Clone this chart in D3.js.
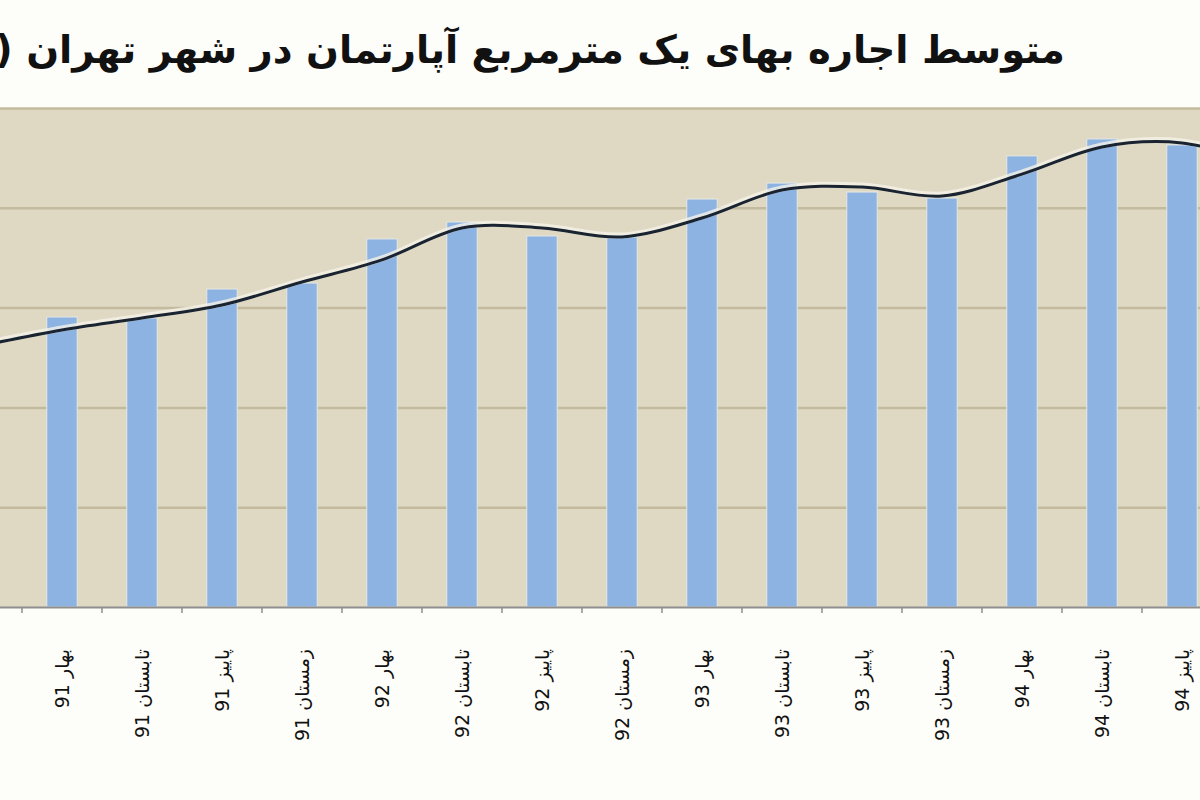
<!DOCTYPE html>
<html>
<head>
<meta charset="utf-8">
<script src="https://cdnjs.cloudflare.com/ajax/libs/d3/7.8.5/d3.min.js"></script>
<style>
body { margin: 0; background: #fff; }
</style>
</head>
<body>
<div id="chart"></div>
<script>
// first and last season sit just outside the visible crop of the original
var seasons = ["زمستان 90", "بهار 91", "تابستان 91", "پاییز 91", "زمستان 91",
  "بهار 92", "تابستان 92", "پاییز 92", "زمستان 92",
  "بهار 93", "تابستان 93", "پاییز 93", "زمستان 93",
  "بهار 94", "تابستان 94", "پاییز 94", "زمستان 94"];
var hiddenLabels = ["زمستان 90", "زمستان 94"];
var rentValues = [13200, 14530, 14480, 15930, 16230, 18440, 19290, 18590, 18540,
  20440, 21240, 20790, 20490, 22600, 23450, 23150, 22000];
var trendValues = [13100, 13880, 14480, 15130, 16280, 17390, 18990, 18990, 18540,
  19490, 20890, 21040, 20590, 21690, 23050, 23250, 22200];
var gridValues = [5000, 10000, 15000, 20000, 25000];
var chartTitle = "متوسط اجاره بهای یک مترمربع آپارتمان در شهر تهران (تومان)";

var w = 1200;
var h = 800;
var plotTop = 108;
var plotBottom = 607;
var step = 80;

var svg = d3.select("#chart")
  .append("svg")
  .attr("width", w)
  .attr("height", h);

svg.append("rect")
  .attr("width", w)
  .attr("height", h)
  .attr("fill", "#fdfdf9");

svg.append("rect")
  .attr("x", 0)
  .attr("y", plotTop)
  .attr("width", w)
  .attr("height", plotBottom - plotTop)
  .attr("fill", "#dfd9c4");

var xScale = d3.scaleBand()
  .domain(seasons)
  .range([-58, -58 + step * seasons.length])
  .paddingInner(0.62)
  .paddingOuter(0.31);

var yScale = d3.scaleLinear()
  .domain([0, 25000])
  .range([plotBottom, plotTop]);

// horizontal grid
svg.append("g")
  .call(d3.axisLeft(yScale).tickValues(gridValues).tickSize(-w).tickFormat(""))
  .call(function(g) { g.select(".domain").remove(); })
  .selectAll("line")
  .attr("stroke", "#c4bb9f")
  .attr("stroke-width", 2.5);

// bars
svg.selectAll(".bar")
  .data(rentValues)
  .enter()
  .append("rect")
  .attr("class", "bar")
  .attr("x", function(d, i) { return xScale(seasons[i]); })
  .attr("y", function(d) { return yScale(d); })
  .attr("width", xScale.bandwidth())
  .attr("height", function(d) { return plotBottom - yScale(d); })
  .attr("fill", "#8db3e2")
  .attr("stroke", "#e6e9e2")
  .attr("stroke-width", 1);

// smoothed trend line
var line = d3.line()
  .x(function(d, i) { return xScale(seasons[i]) + xScale.bandwidth() / 2; })
  .y(function(d) { return yScale(d); })
  .curve(d3.curveCardinal.tension(0));

svg.append("path")
  .datum(trendValues)
  .attr("d", line)
  .attr("transform", "translate(0,-1.5)")
  .attr("fill", "none")
  .attr("stroke", "#f5f2e8")
  .attr("stroke-opacity", 0.8)
  .attr("stroke-width", 6);

svg.append("path")
  .datum(trendValues)
  .attr("d", line)
  .attr("fill", "none")
  .attr("stroke", "#1a2330")
  .attr("stroke-width", 3);

// x axis
var xAxis = svg.append("g")
  .attr("transform", "translate(0," + plotBottom + ")")
  .call(d3.axisBottom(xScale).tickSize(0).tickPadding(0));

xAxis.select(".domain")
  .attr("stroke", "#8e8e8e")
  .attr("stroke-width", 2);

xAxis.selectAll(".tick")
  .filter(function(d) { return hiddenLabels.indexOf(d) >= 0; })
  .remove();

xAxis.selectAll("text")
  .attr("transform", "rotate(-90)")
  .attr("x", -42)
  .attr("y", 0)
  .attr("dy", "0.35em")
  .attr("text-anchor", "end")
  .attr("font-family", "DejaVu Sans")
  .attr("font-size", 19)
  .attr("fill", "#111");

svg.selectAll(".sep")
  .data(seasons)
  .enter()
  .append("line")
  .attr("class", "sep")
  .attr("x1", function(d) { return xScale(d) + xScale.bandwidth() / 2 - step / 2; })
  .attr("x2", function(d) { return xScale(d) + xScale.bandwidth() / 2 - step / 2; })
  .attr("y1", plotBottom)
  .attr("y2", plotBottom + 6)
  .attr("stroke", "#8e8e8e")
  .attr("stroke-width", 1.5);

// title
svg.append("text")
  .attr("x", 1065)
  .attr("y", 63)
  .attr("direction", "rtl")
  .attr("text-anchor", "start")
  .attr("font-family", "DejaVu Sans")
  .attr("font-weight", "bold")
  .attr("font-size", 38.6)
  .attr("fill", "#111")
  .text(chartTitle);
</script>
</body>
</html>
